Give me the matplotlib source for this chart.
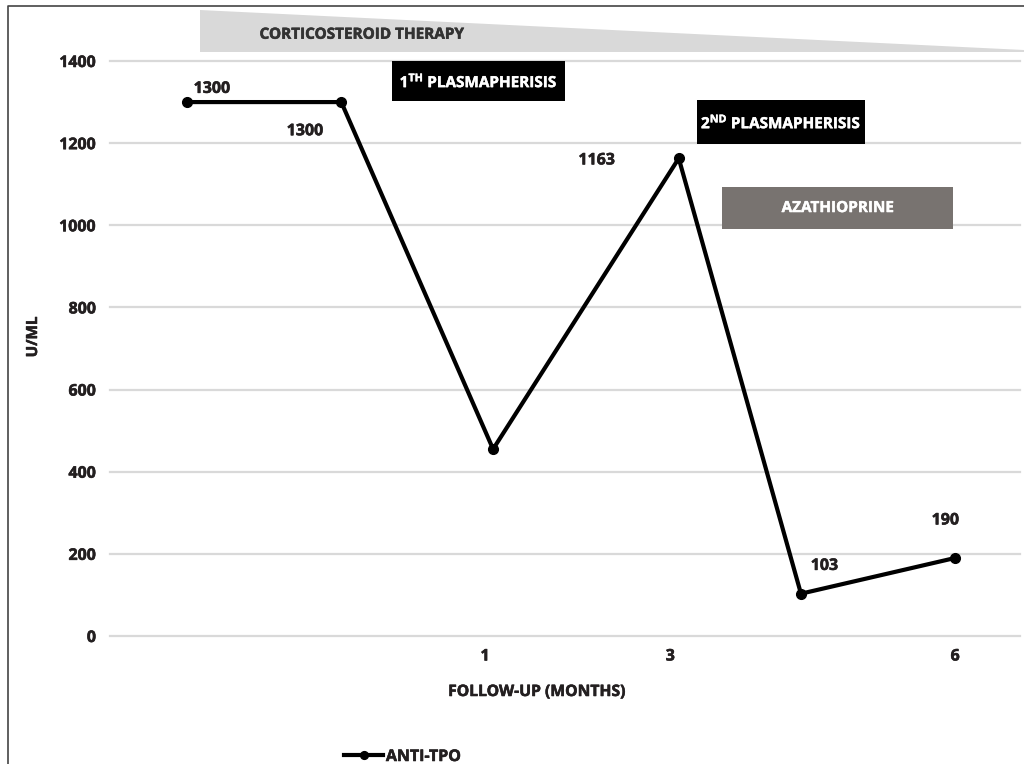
import matplotlib
matplotlib.use("Agg")
import matplotlib.pyplot as plt
import matplotlib.patheffects as pe
from matplotlib.patches import Polygon, Rectangle
from matplotlib.lines import Line2D

# ---- data ----
x_pos = [-2.17, -0.53, 1.085, 3.06, 4.36, 6.0]      # position along follow-up axis
anti_tpo = [1300, 1300, 455, 1163, 103, 190]        # U/mL
tick_pos = [1, 2.97, 6]
tick_labels = ["1", "3", "6"]
y_ticks = [0, 200, 400, 600, 800, 1000, 1200, 1400]
label_idx = [0, 1, 3, 4, 5]
label_text = ["1300", "1300", "1163", "103", "190"]
label_offsets = [(18, 9.5), (-26, -21), (-59, -1.5), (17, 20), (-7, 27)]

FAM = 'Open Sans'
W8 = 'bold'
plt.rcParams['font.family'] = [FAM, 'DejaVu Sans']
plt.rcParams['font.weight'] = W8
plt.rcParams['mathtext.fontset'] = 'custom'
plt.rcParams['mathtext.rm'] = FAM + ':bold'
plt.rcParams['mathtext.it'] = FAM + ':bold'
plt.rcParams['mathtext.bf'] = FAM + ':bold'

txt_col = '#231f20'


def thick(col, lw=0.4):
    return [pe.withStroke(linewidth=lw, foreground=col)]


W, H = 1024, 764
fig = plt.figure(figsize=(W / 100, H / 100), dpi=100)
ax = fig.add_axes([110 / W, 1 - 636 / H, 910 / W, 575 / H])

ax.set_xlim(-2.99, 6.69)
ax.set_ylim(0, 1400)
ax.set_yticks(y_ticks)
ax.set_yticklabels([str(v) for v in y_ticks])
ax.set_xticks(tick_pos)
ax.set_xticklabels(tick_labels)
ax.tick_params(axis='both', length=0, labelsize=11.5, colors=txt_col)
ax.tick_params(axis='y', pad=10)
ax.tick_params(axis='x', pad=9)
for lab in ax.get_xticklabels() + ax.get_yticklabels():
    lab.set_path_effects(thick(txt_col))
for s in ax.spines.values():
    s.set_visible(False)
for v in y_ticks:
    ax.axhline(v, color='#d9d9d9', lw=1.6, zorder=0, clip_on=False)

line, = ax.plot(x_pos, anti_tpo, color='black', lw=3, marker='o', ms=7,
                zorder=3, clip_on=False, label='ANTI-TPO')

for i, t, off in zip(label_idx, label_text, label_offsets):
    ax.annotate(t, (x_pos[i], anti_tpo[i]), xytext=off, textcoords='offset points',
                ha='center', va='center', fontsize=11.5, fontweight=W8, color=txt_col,
                path_effects=thick(txt_col))

ax.set_xlabel('FOLLOW-UP (MONTHS)', fontsize=11.3, fontweight=W8, color=txt_col,
              path_effects=thick(txt_col))
ax.xaxis.set_label_coords((537 - 110) / 910, -(692 - 636) / 575)
ax.xaxis.label.set_va('center')
ax.set_ylabel('U/ML', fontsize=11, fontweight=W8, color=txt_col, path_effects=thick(txt_col))
ax.yaxis.set_label_coords(-(110 - 33) / 910, (636 - 337) / 575)
ax.yaxis.label.set_va('center')

# corticosteroid wedge
tri = Polygon([(-2.03, 1524), (-2.03, 1422), (6.73, 1422), (6.73, 1428)], closed=True,
              facecolor='#d9d9d9', edgecolor='none', clip_on=False, zorder=1)
ax.add_patch(tri)
ax.text(-0.315, 1464, 'CORTICOSTEROID THERAPY', ha='center', va='center', fontsize=11,
        fontweight=W8, color='#333333', clip_on=False, path_effects=thick('#333333'))

# therapy boxes
boxes = [(0.01, 1.85, 1303, 1400, 'black', r'1$^{\mathrm{TH}}$ PLASMAPHERISIS'),
         (3.255, 5.04, 1198, 1305, 'black', r'2$^{\mathrm{ND}}$ PLASMAPHERISIS'),
         (3.52, 5.98, 991, 1093, '#787370', 'AZATHIOPRINE')]
for x0, x1, y0, y1, fc, lab in boxes:
    ax.add_patch(Rectangle((x0, y0), x1 - x0, y1 - y0, facecolor=fc, edgecolor='none',
                           zorder=4, clip_on=False))
    ax.text((x0 + x1) / 2, (y0 + y1) / 2, lab, ha='center', va='center', fontsize=11,
            fontweight=W8, color='white', zorder=5, path_effects=thick('white', 0.3))

leg = ax.legend(handles=[line], loc='center left', bbox_to_anchor=(338 / W, 7 / H),
                bbox_transform=fig.transFigure, frameon=False, fontsize=11.5,
                handlelength=2.4, handletextpad=0.2, borderaxespad=0, markerscale=0.8)
for t in leg.get_texts():
    t.set_color(txt_col)
    t.set_path_effects(thick(txt_col))

# figure frame (top and left)
fig.add_artist(Line2D([8 / W, 8 / W, 1], [0, 1 - 6 / H, 1 - 6 / H],
                      transform=fig.transFigure, color='#444444', lw=1.2))

fig.savefig('out.png', dpi=100)
